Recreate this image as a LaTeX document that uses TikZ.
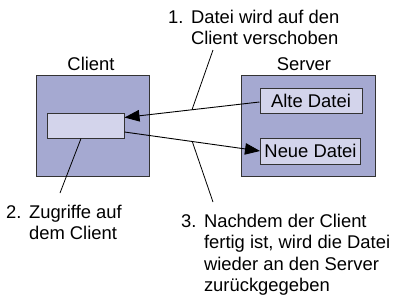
\documentclass[tikz,border=0pt]{standalone}
\usepackage{fontspec}
\setmainfont{Liberation Sans}
\usetikzlibrary{arrows.meta}
\definecolor{outerfill}{HTML}{A5A9D1}
\definecolor{innerfill}{HTML}{D3D4EB}
\definecolor{edge}{HTML}{333333}
\begin{document}
\begin{tikzpicture}[x=1pt,y=-1pt,
  every node/.style={font=\fontsize{18.4}{21.5}\selectfont, inner sep=0pt},
  outerbox/.style={draw=edge, line width=1pt, fill=outerfill},
  filebox/.style={draw=edge, line width=1pt, fill=innerfill},
  arr/.style={line width=0.9pt, -{Triangle[length=15pt,width=11.5pt]}},
  leader/.style={line width=0.8pt},
  numtext/.style={anchor=north west, align=left}]
\useasboundingbox (0,0) rectangle (400,301);
% outer boxes
\node[outerbox, minimum width=113pt, minimum height=101pt] (client) at (92.5,125.5) {};
\node[outerbox, minimum width=134pt, minimum height=101pt] (server) at (308,125.5) {};
\node[anchor=base] (clientlbl) at (91,70) {Client};
\node[anchor=base] (serverlbl) at (304,70) {Server};
% file boxes
\node[filebox, minimum width=77pt, minimum height=25pt] (cf) at (85.5,125.5) {};
\node[filebox, minimum width=102pt, minimum height=25pt] (alte) at (311,100.5) {Alte Datei};
\node[filebox, minimum width=100pt, minimum height=26pt] (neue) at (310.5,151) {Neue Datei};
% arrows
\draw[arr] ([yshift=-1.5pt]alte.west) -- coordinate[pos=0.5] (m1) ([yshift=8pt]cf.east);
\draw[arr] ([yshift=-6.5pt]cf.east) -- coordinate[pos=0.5] (m3) (neue.west);
% texts
\node[numtext] (t1) at (168,8) {\begin{tabular}{@{}l@{\hspace{7.5pt}}l@{}}1. & Datei wird auf den\\ & Client verschoben\end{tabular}};
\node[numtext] (t2) at (6,203) {\begin{tabular}{@{}l@{\hspace{7.5pt}}l@{}}2. & Zugriffe auf\\ & dem Client\end{tabular}};
\node[numtext] (t3) at (181,212) {\begin{tabular}{@{}l@{\hspace{7.5pt}}l@{}}3. & Nachdem der Client\\ & fertig ist, wird die Datei\\ & wieder an den Server\\ & zurückgegeben\end{tabular}};
% leaders
\coordinate (l1) at (213,50);
\coordinate (l2) at (60,193);
\coordinate (l3) at (213,202);
\draw[leader] (l1) -- (m1);
\draw[leader] ([xshift=-4.5pt]cf.south) -- (l2);
\draw[leader] (m3) -- (l3);
\end{tikzpicture}
\end{document}
